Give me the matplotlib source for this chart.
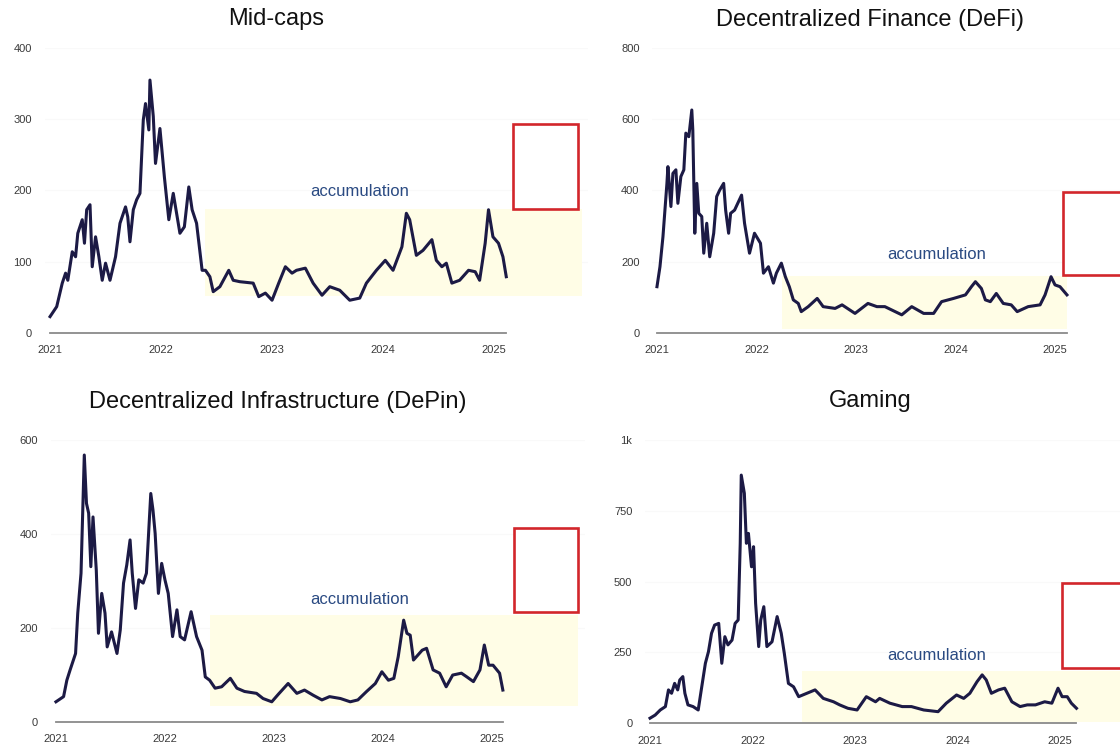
import matplotlib
matplotlib.use("Agg")
import matplotlib.pyplot as plt
from matplotlib.patches import Rectangle

plt.rcParams["font.family"] = ["Liberation Sans", "DejaVu Sans"]

W, H = 1120, 744

# ---- data (year fractions, index level) ----
mid_x = [2021.00, 2021.06, 2021.11, 2021.14, 2021.16, 2021.20, 2021.23, 2021.25, 2021.29, 2021.31,
         2021.33, 2021.36, 2021.38, 2021.41, 2021.44, 2021.47, 2021.50, 2021.54, 2021.59, 2021.63,
         2021.68, 2021.70, 2021.72, 2021.75, 2021.78, 2021.81, 2021.84, 2021.86, 2021.89, 2021.90,
         2021.93, 2021.95, 2021.99, 2022.03, 2022.07, 2022.11, 2022.14, 2022.17, 2022.21, 2022.25,
         2022.28, 2022.32, 2022.37, 2022.40, 2022.44, 2022.47, 2022.53, 2022.61, 2022.65, 2022.71,
         2022.83, 2022.88, 2022.94, 2023.00, 2023.06, 2023.12, 2023.18, 2023.22, 2023.30, 2023.37,
         2023.45, 2023.52, 2023.61, 2023.70, 2023.79, 2023.85, 2023.94, 2024.02, 2024.09, 2024.17,
         2024.21, 2024.24, 2024.30, 2024.36, 2024.44, 2024.48, 2024.53, 2024.57, 2024.62, 2024.69,
         2024.77, 2024.83, 2024.87, 2024.92, 2024.95, 2024.99, 2025.04, 2025.08, 2025.11]
mid_y = [23, 37, 70, 84, 74, 114, 107, 140, 159, 126,
         173, 180, 93, 135, 107, 74, 98, 74, 107, 154,
         177, 163, 128, 173, 187, 196, 299, 322, 285, 355,
         304, 238, 287, 219, 159, 196, 168, 140, 149, 205,
         173, 154, 88, 88, 79, 58, 65, 88, 74, 72,
         70, 51, 56, 46, 70, 93, 84, 88, 91, 70,
         53, 65, 60, 46, 49, 70, 88, 102, 88, 121,
         168, 159, 109, 116, 131, 102, 93, 98, 70, 74,
         88, 86, 74, 126, 173, 135, 126, 107, 79]

defi_x = [2021.00, 2021.03, 2021.06, 2021.10, 2021.11, 2021.14, 2021.16, 2021.19, 2021.21, 2021.24,
          2021.27, 2021.29, 2021.32, 2021.35, 2021.36, 2021.38, 2021.40, 2021.42, 2021.45, 2021.47,
          2021.50, 2021.53, 2021.57, 2021.60, 2021.63, 2021.67, 2021.69, 2021.72, 2021.74, 2021.78,
          2021.85, 2021.88, 2021.93, 2021.98, 2022.04, 2022.07, 2022.12, 2022.17, 2022.20, 2022.25,
          2022.29, 2022.33, 2022.37, 2022.42, 2022.45, 2022.52, 2022.61, 2022.67, 2022.79, 2022.86,
          2022.99, 2023.12, 2023.21, 2023.29, 2023.46, 2023.56, 2023.68, 2023.78, 2023.86, 2023.98,
          2024.10, 2024.16, 2024.20, 2024.26, 2024.30, 2024.35, 2024.41, 2024.48, 2024.56, 2024.62,
          2024.73, 2024.85, 2024.90, 2024.96, 2025.00, 2025.05, 2025.12]
defi_y = [130, 186, 270, 420, 467, 355, 448, 458, 364, 439,
          458, 561, 551, 626, 570, 280, 420, 336, 327, 224,
          308, 214, 280, 383, 401, 420, 345, 280, 336, 345,
          387, 308, 224, 280, 252, 168, 186, 140, 168, 196,
          158, 130, 93, 83, 60, 74, 97, 74, 69, 79,
          55, 83, 74, 74, 51, 74, 55, 55, 88, 97,
          107, 130, 144, 125, 93, 88, 111, 83, 79, 60,
          74, 79, 107, 158, 135, 130, 107]

depin_x = [2021.00, 2021.07, 2021.10, 2021.13, 2021.16, 2021.18, 2021.20, 2021.23, 2021.26, 2021.28,
           2021.30, 2021.32, 2021.34, 2021.37, 2021.39, 2021.42, 2021.45, 2021.47, 2021.51, 2021.56,
           2021.59, 2021.62, 2021.65, 2021.68, 2021.70, 2021.73, 2021.76, 2021.80, 2021.83, 2021.87,
           2021.89, 2021.91, 2021.94, 2021.97, 2022.00, 2022.03, 2022.07, 2022.11, 2022.14, 2022.18,
           2022.24, 2022.29, 2022.34, 2022.37, 2022.41, 2022.46, 2022.52, 2022.60, 2022.66, 2022.73,
           2022.84, 2022.90, 2022.98, 2023.04, 2023.13, 2023.21, 2023.28, 2023.36, 2023.44, 2023.51,
           2023.61, 2023.70, 2023.77, 2023.85, 2023.93, 2023.99, 2024.05, 2024.10, 2024.14, 2024.19,
           2024.22, 2024.25, 2024.28, 2024.36, 2024.40, 2024.46, 2024.52, 2024.58, 2024.64, 2024.72,
           2024.77, 2024.83, 2024.89, 2024.93, 2024.97, 2025.01, 2025.07, 2025.10]
depin_y = [42, 53, 88, 110, 131, 145, 231, 316, 568, 465,
           444, 330, 436, 323, 188, 273, 231, 159, 191, 145,
           195, 295, 334, 387, 316, 241, 302, 295, 316, 486,
           451, 401, 273, 337, 302, 273, 181, 238, 181, 174,
           234, 181, 152, 95, 88, 71, 74, 92, 71, 64,
           60, 49, 42, 58, 81, 60, 67, 56, 46, 53,
           49, 42, 46, 64, 81, 106, 88, 92, 138, 216,
           188, 184, 131, 152, 156, 110, 103, 74, 99, 103,
           95, 85, 110, 163, 120, 120, 103, 67]

gaming_x = [2021.00, 2021.05, 2021.10, 2021.15, 2021.18, 2021.21, 2021.24, 2021.27, 2021.29, 2021.32,
            2021.34, 2021.37, 2021.42, 2021.47, 2021.50, 2021.54, 2021.57, 2021.60, 2021.63, 2021.67,
            2021.70, 2021.73, 2021.76, 2021.80, 2021.83, 2021.86, 2021.88, 2021.89, 2021.92, 2021.94,
            2021.96, 2021.99, 2022.01, 2022.03, 2022.06, 2022.08, 2022.11, 2022.14, 2022.19, 2022.24,
            2022.28, 2022.31, 2022.35, 2022.40, 2022.45, 2022.53, 2022.61, 2022.69, 2022.79, 2022.85,
            2022.93, 2023.02, 2023.11, 2023.20, 2023.24, 2023.34, 2023.46, 2023.55, 2023.67, 2023.81,
            2023.89, 2023.99, 2024.06, 2024.12, 2024.19, 2024.24, 2024.28, 2024.33, 2024.40, 2024.46,
            2024.53, 2024.61, 2024.68, 2024.76, 2024.85, 2024.92, 2024.98, 2025.02, 2025.07, 2025.11,
            2025.16]
gaming_y = [17, 28, 46, 58, 117, 105, 140, 117, 152, 164,
            105, 64, 58, 46, 117, 211, 252, 317, 346, 352,
            211, 305, 276, 293, 352, 364, 635, 876, 812, 635,
            670, 552, 623, 423, 270, 364, 411, 270, 287, 376,
            317, 246, 140, 128, 93, 105, 117, 87, 75, 64,
            52, 46, 93, 75, 87, 70, 58, 58, 46, 40,
            70, 99, 87, 105, 146, 170, 152, 105, 117, 123,
            75, 58, 64, 64, 75, 70, 123, 93, 93, 70,
            52]

# accumulation ranges (x0, x1, y0, y1) and the red target boxes
mid_accum = (2022.40, 2025.79, 52, 174)
mid_target = (2025.17, 2025.76, 174, 293)
defi_accum = (2022.26, 2025.12, 12, 161)
defi_target = (2025.08, 2026.00, 163, 397)
depin_accum = (2022.41, 2025.79, 32, 226)
depin_target = (2025.20, 2025.79, 234, 412)
gaming_accum = (2022.48, 2026.00, 5, 183)
gaming_target = (2025.02, 2026.00, 193, 494)

years = [2021, 2022, 2023, 2024, 2025]

LINE = "#1c1a45"
FILL = "#fffde6"
RED = "#d2262b"
TEXT_BLUE = "#2a4a82"


def px_axes(fig, left, top, right, bottom):
    return fig.add_axes([left / W, 1 - bottom / H, (right - left) / W, (bottom - top) / H])


def draw_panel(ax, x, y, accum, target, label_xy, ymax, yticks, yticklabels):
    ax.set_xlim(2020.95, 2025.85)
    ax.set_ylim(0, ymax)
    for s in ax.spines.values():
        s.set_visible(False)
    ax.set_xticks(years)
    ax.set_xticklabels([str(v) for v in years])
    ax.set_yticks(yticks)
    ax.set_yticklabels(yticklabels)
    ax.tick_params(length=0, labelsize=8, colors="#3a3a3a", pad=9)
    for t in yticks[1:]:
        ax.axhline(t, color="#f9f9f9", lw=0.8, zorder=0)

    x0, x1, y0, y1 = accum
    ax.add_patch(Rectangle((x0, y0), x1 - x0, y1 - y0, facecolor=FILL, edgecolor="none", zorder=1))
    x0, x1, y0, y1 = target
    ax.add_patch(Rectangle((x0, y0), x1 - x0, y1 - y0, facecolor="white", edgecolor=RED,
                           lw=1.9, zorder=2))
    ax.plot([x[0], x[-1]], [0, 0], color="#8a8a8a", lw=1.3, zorder=2, clip_on=False)
    ax.plot(x, y, color=LINE, lw=2.2, zorder=3, solid_joinstyle="round")
    ax.text(label_xy[0], label_xy[1], "accumulation", color=TEXT_BLUE, fontsize=12,
            ha="center", va="center", zorder=4)


fig = plt.figure(figsize=(W / 100, H / 100), dpi=100)

ax1 = px_axes(fig, 44.5, 48, 588.4, 333)
draw_panel(ax1, mid_x, mid_y, mid_accum, mid_target, (2023.79, 199), 400,
           [0, 100, 200, 300, 400], ["0", "100", "200", "300", "400"])

ax2 = px_axes(fig, 652, 48, 1139.6, 333)
draw_panel(ax2, defi_x, defi_y, defi_accum, defi_target, (2023.81, 219), 800,
           [0, 200, 400, 600, 800], ["0", "200", "400", "600", "800"])

ax3 = px_axes(fig, 50.5, 440, 584.6, 721.5)
draw_panel(ax3, depin_x, depin_y, depin_accum, depin_target, (2023.79, 260), 600,
           [0, 200, 400, 600], ["0", "200", "400", "600"])

ax4 = px_axes(fig, 644.9, 440, 1147.2, 723)
draw_panel(ax4, gaming_x, gaming_y, gaming_accum, gaming_target, (2023.80, 240), 1000,
           [0, 250, 500, 750, 1000], ["0", "250", "500", "750", "1k"])

title_kw = dict(fontsize=17, color="#111111", ha="center", va="center")
fig.text(276 / W, 1 - 19 / H, "Mid-caps", **title_kw)
fig.text(870 / W, 1 - 20 / H, "Decentralized Finance (DeFi)", **title_kw)
fig.text(278 / W, 1 - 402 / H, "Decentralized Infrastructure (DePin)", **title_kw)
fig.text(870 / W, 1 - 401 / H, "Gaming", **title_kw)

fig.savefig("out.png", dpi=100)
